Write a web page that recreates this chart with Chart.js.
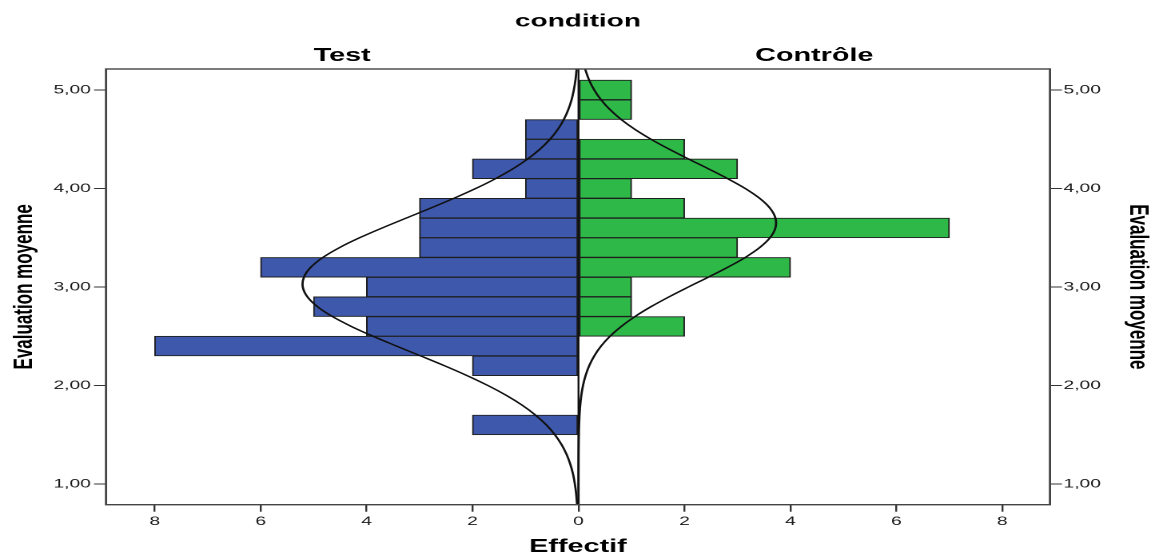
<!DOCTYPE html>
<html lang="fr">
<head>
<meta charset="utf-8">
<title>Evaluation moyenne par condition</title>
<script src="https://cdn.jsdelivr.net/npm/chart.js@4.4.1/dist/chart.umd.min.js"></script>
<style>
  html, body { margin: 0; padding: 0; background: #fff; overflow: hidden; }
  /* The figure is laid out on a 720px-wide canvas and widened to 1151px. */
  #stage {
    position: absolute; left: 0; top: 0;
    width: 720px; height: 556px;
    transform-origin: 0 0;
    transform: scale(1.598611, 1);
  }
  #chart { display: block; width: 720px; height: 556px; }
</style>
</head>
<body>
<div id="stage"><canvas id="chart" width="720" height="556"></canvas></div>
<script>
// Histogram bins of "Evaluation moyenne" (bin centres, width 0.2)
const binCenters     = [5.0, 4.8, 4.6, 4.4, 4.2, 4.0, 3.8, 3.6, 3.4, 3.2, 3.0, 2.8, 2.6, 2.4, 2.2, 2.0, 1.8, 1.6];
const testCounts     = [0,   0,   1,   1,   2,   1,   3,   3,   3,   6,   4,   5,   4,   8,   2,   0,   0,   2];
const controleCounts = [1,   1,   0,   2,   3,   1,   2,   7,   3,   4,   1,   1,   2,   0,   0,   0,   0,   0];

// Fitted normal curves, expressed in counts per bin, sampled along the evaluation axis
const curveLevels = [0.75, 0.8, 0.9, 1.0, 1.1, 1.2, 1.3, 1.4, 1.5, 1.6, 1.7, 1.8, 1.9, 2.0, 2.1, 2.2, 2.3, 2.4,
                     2.5, 2.6, 2.7, 2.8, 2.9, 3.0, 3.1, 3.2, 3.3, 3.4, 3.5, 3.6, 3.7, 3.8, 3.9, 4.0, 4.1, 4.2,
                     4.3, 4.4, 4.5, 4.6, 4.7, 4.8, 4.9, 5.0, 5.1, 5.2, 5.25];
const testNormal = [0.022, 0.028, 0.044, 0.069, 0.104, 0.155, 0.225, 0.320, 0.445, 0.608, 0.813, 1.063, 1.363, 1.711,
                    2.101, 2.527, 2.977, 3.434, 3.879, 4.290, 4.647, 4.928, 5.118, 5.205, 5.183, 5.054, 4.826, 4.512,
                    4.131, 3.704, 3.252, 2.795, 2.353, 1.939, 1.565, 1.237, 0.958, 0.726, 0.538, 0.391, 0.278, 0.194,
                    0.132, 0.089, 0.058, 0.037, 0.029];
const controleNormal = [0.0, 0.0, 0.0001, 0.0002, 0.0004, 0.0009, 0.0017, 0.0033, 0.0061, 0.011, 0.019, 0.032, 0.053,
                        0.085, 0.133, 0.201, 0.297, 0.426, 0.594, 0.807, 1.065, 1.368, 1.708, 2.074, 2.451, 2.815,
                        3.147, 3.420, 3.615, 3.717, 3.717, 3.615, 3.420, 3.147, 2.815, 2.451, 2.074, 1.708, 1.368,
                        1.065, 0.807, 0.594, 0.426, 0.297, 0.201, 0.133, 0.107];

// Text
const chartTitle  = 'condition';
const panelTitles = ['Test', 'Contrôle'];
const xAxisTitle  = 'Effectif';
const yAxisTitle  = 'Evaluation moyenne';

const FONT = '"Liberation Sans", Arial, Helvetica, sans-serif';
Chart.defaults.font.family = FONT;
Chart.defaults.color = '#1a1a1a';

// Test grows to the left (negative), Contrôle to the right
function barPoints(counts, side) {
  const pts = [];
  counts.forEach((c, i) => { if (c > 0) pts.push({ y: binCenters[i], x: side * c }); });
  return pts;
}
function curvePoints(values, side) {
  return curveLevels.map((lv, i) => ({ y: lv, x: side * values[i] }));
}

const fmtEval = v => v.toFixed(2).replace('.', ',');

// Frame, centre line and headings
const pyramidDecor = {
  id: 'pyramidDecor',
  afterDatasetsDraw(chart) {
    const { ctx, chartArea: a, scales: { x } } = chart;
    const x0 = x.getPixelForValue(0);
    ctx.save();
    ctx.strokeStyle = '#111';
    ctx.lineWidth = 1.2;
    ctx.beginPath();
    ctx.moveTo(x0, a.top);
    ctx.lineTo(x0, a.bottom);
    ctx.stroke();
    ctx.restore();
  },
  afterDraw(chart) {
    const { ctx, chartArea: a, scales: { x } } = chart;
    const x0 = x.getPixelForValue(0);
    ctx.save();
    ctx.strokeStyle = '#444';
    ctx.lineWidth = 1.4;
    ctx.strokeRect(a.left, a.top, a.right - a.left, a.bottom - a.top);

    ctx.fillStyle = '#000';
    ctx.textAlign = 'center';
    ctx.textBaseline = 'alphabetic';
    ctx.font = 'bold 17.5px ' + FONT;
    ctx.fillText(chartTitle, (a.left + a.right) / 2, 26.7);
    ctx.font = 'bold 18px ' + FONT;
    ctx.fillText(panelTitles[0], (a.left + x0) / 2, 61);
    ctx.fillText(panelTitles[1], (x0 + a.right) / 2, 61);
    ctx.restore();
  }
};

const yTicks = {
  stepSize: 1,
  includeBounds: false,
  callback: v => fmtEval(v),
  font: { size: 12 },
  color: '#1a1a1a'
};
const yGrid = { drawOnChartArea: false, drawTicks: true, offset: false, tickLength: 7.5, color: '#333', lineWidth: 1 };

new Chart(document.getElementById('chart'), {
  type: 'bar',
  data: {
    datasets: [
      {
        type: 'line', label: 'Test (courbe normale)',
        data: curvePoints(testNormal, -1),
        borderColor: '#111', borderWidth: 1.4, pointRadius: 0, tension: 0.35, fill: false, order: 1
      },
      {
        type: 'line', label: 'Contrôle (courbe normale)',
        data: curvePoints(controleNormal, 1),
        borderColor: '#111', borderWidth: 1.4, pointRadius: 0, tension: 0.35, fill: false, order: 1
      },
      {
        label: 'Test',
        data: barPoints(testCounts, -1),
        backgroundColor: '#3e58ac', borderColor: '#1f1f1f', borderWidth: 1,
        borderSkipped: false, grouped: false, barPercentage: 1, categoryPercentage: 1, order: 2
      },
      {
        label: 'Contrôle',
        data: barPoints(controleCounts, 1),
        backgroundColor: '#2eb848', borderColor: '#1f1f1f', borderWidth: 1,
        borderSkipped: false, grouped: false, barPercentage: 1, categoryPercentage: 1, order: 2
      }
    ]
  },
  options: {
    indexAxis: 'y',
    responsive: false,
    maintainAspectRatio: false,
    animation: false,
    devicePixelRatio: 2,
    layout: { padding: { top: 69, left: 0, right: 0, bottom: 0 } },
    plugins: { legend: { display: false }, tooltip: { enabled: false } },
    scales: {
      x: {
        type: 'linear',
        min: -8.92, max: 8.9,
        offset: false,
        ticks: {
          stepSize: 2, includeBounds: false, padding: 3,
          callback: v => String(Math.abs(v)),
          font: { size: 12 }, color: '#1a1a1a'
        },
        grid: { drawOnChartArea: false, drawTicks: true, offset: false, tickLength: 7, color: '#333', lineWidth: 1.2 },
        border: { display: false },
        title: {
          display: true, text: xAxisTitle, color: '#000',
          font: { size: 18, weight: 'bold', lineHeight: 1 },
          padding: { top: 0, bottom: 0.2 }
        },
        afterFit(scale) { scale.height = 51.3; }
      },
      y: {
        type: 'linear', position: 'left',
        min: 0.79, max: 5.213,
        offset: false,
        ticks: Object.assign({ padding: 2 }, yTicks),
        grid: yGrid,
        border: { display: false },
        title: {
          display: true, text: yAxisTitle, color: '#000',
          font: { size: 17, weight: 'bold', lineHeight: 1 },
          padding: { top: 6.8, bottom: 0 }
        },
        afterFit(scale) { scale.width = 66.3; }
      },
      y2: {
        type: 'linear', position: 'right',
        min: 0.79, max: 5.213,
        offset: false,
        ticks: Object.assign({ padding: 1 }, yTicks),
        grid: yGrid,
        border: { display: false },
        title: {
          display: true, text: yAxisTitle, color: '#000',
          font: { size: 17, weight: 'bold', lineHeight: 1 },
          padding: { top: 0, bottom: 0 }
        },
        afterFit(scale) { scale.width = 63.2; }
      }
    }
  },
  plugins: [pyramidDecor]
});
</script>
</body>
</html>
